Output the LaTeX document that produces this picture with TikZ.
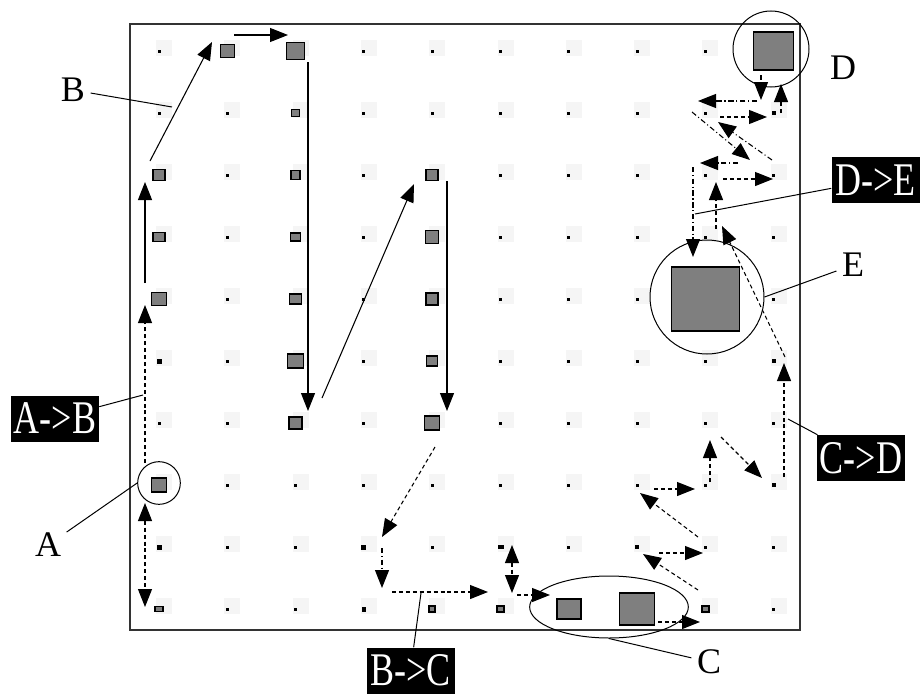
\documentclass[tikz,border=0pt]{standalone}
\usepackage{fontspec}
\setmainfont{Liberation Serif}
\usetikzlibrary{arrows.meta,shapes.geometric}
\definecolor{sqgray}{HTML}{7F7F7F}
\tikzset{
  sarr/.style={line width=0.8pt,-{Triangle[length=13.5pt,width=10.5pt]}},
  darr/.style={line width=0.8pt,dash pattern=on 3pt off 2.2pt,-{Triangle[length=13.5pt,width=10.5pt]}},
  ddarr/.style={line width=0.8pt,dash pattern=on 3pt off 2.2pt,{Triangle[length=13.5pt,width=10.5pt]}-{Triangle[length=13.5pt,width=10.5pt]}},
  dotarr/.style={line width=0.8pt,dash pattern=on 4pt off 2pt on 0.8pt off 2pt,-{Triangle[length=13.5pt,width=10.5pt]}},
  gsq/.style={fill=sqgray,draw=black,line width=1.1pt},
  lbl/.style={font=\fontsize{27}{27}\selectfont,inner sep=4pt},
  blk/.style={fill=black,text=white,minimum width=66pt,minimum height=34.5pt,inner sep=0pt,font=\fontsize{27}{27}\selectfont},
  conn/.style={line width=0.75pt},
  ring/.style={draw=black,line width=0.75pt,circle,inner sep=0pt},
  frame/.style={draw=black!80,line width=1pt}
}
\newcommand\cx[1]{159+68.3*#1}
\newcommand\cy[1]{51+62*#1}
\newcommand\gsquare[4]{\draw[gsq] ({\cx{#1}-#3/2},{\cy{#2}-#4/2}) rectangle ++(#3,#4);}
\newcommand\bdot[4]{\fill[black] ({\cx{#1}-#3/2},{\cy{#2}-#4/2}) rectangle ++(#3,#4);}
\newcommand\stretched[1]{\scalebox{1}[1.3]{#1}}
\begin{document}
\begin{tikzpicture}[x=0.75pt,y=-0.75pt]
\useasboundingbox (0,0) rectangle (921,696);
\fill[white] (0,0) rectangle (921,696);
% grid background speckles and dots
\foreach \i in {0,...,9}{\foreach \j in {0,...,9}{
  \fill[black!4] ({\cx{\i}-3},{\cy{\j}-11}) rectangle ++(16,16);
  \fill[black] ({\cx{\i}-1.5},{\cy{\j}-1.5}) rectangle ++(3,3);
}}
\draw[frame] (130,24) rectangle (800,630);
% larger dots
\bdot{0}{5}{5}{5}
\bdot{0}{8}{5}{5}
\bdot{3}{8}{5}{5}
\bdot{5}{8}{6}{4}
\bdot{7}{8}{4}{4}
\bdot{9}{1}{4}{4}
\bdot{9}{5}{4}{4}
\bdot{9}{7}{4}{4}
\bdot{3}{9}{4}{5}
% gray squares
\gsquare{1}{0}{14}{13}
\gsquare{2}{0}{18}{17}
\gsquare{9}{0}{40}{38}
\gsquare{2}{1}{8}{7}
\gsquare{0}{2}{12}{11}
\gsquare{2}{2}{9}{9}
\gsquare{4}{2}{12}{11}
\gsquare{0}{3}{12}{9}
\gsquare{2}{3}{10}{8}
\gsquare{4}{3}{13}{13}
\gsquare{0}{4}{15}{13}
\gsquare{2}{4}{12}{10}
\gsquare{4}{4}{12}{12}
\gsquare{8}{4}{68}{64}
\gsquare{2}{5}{16}{14}
\gsquare{4}{5}{11}{10}
\gsquare{2}{6}{13}{12}
\gsquare{4}{6}{15}{14}
\gsquare{0}{7}{15}{14}
\gsquare{0}{9}{8}{5}
\gsquare{4}{9}{6}{6}
\gsquare{5}{9}{7}{6}
\gsquare{6}{9}{24}{20}
\gsquare{7}{9}{35}{32}
\gsquare{8}{9}{7}{6}
% rings
\node[ring,minimum size=32pt] (cA) at (159,483) {};
\node[ring,minimum size=57pt] (cD) at (771,49) {};
\node[ring,minimum size=85.5pt] (cE) at (707,297) {};
\node[draw=black,line width=0.75pt,ellipse,minimum width=119pt,minimum height=46.5pt,inner sep=0pt] (cC) at (609,607) {};
% path B (solid)
\draw[sarr] (145,283) -- (145,182);
\draw[sarr] (150,161) -- (212,42);
\draw[sarr] (234,35) -- (288,35);
\draw[sarr] (308,62) -- (308,411);
\draw[sarr] (322,398) -- (414,184);
\draw[sarr] (447,181) -- (447,411);
% A -> B
\draw[darr] (145,463) -- (145,305);
\draw[ddarr] (145,503) -- (145,607);
% B -> C
\draw[darr] (435,447) -- (382,537);
\draw[dotarr] (382,548) -- (382,588);
\draw[darr] (392,592) -- (488,592);
\draw[ddarr] (512,545) -- (512,593);
\draw[darr] (517,595) -- (550,595);
% C -> D
\draw[darr] (658,622) -- (700,622);
\draw[darr] (698,590) -- (643,554);
\draw[darr] (659,553) -- (703,553);
\draw[darr] (698,537) -- (640,493);
\draw[darr] (654,489) -- (695,489);
\draw[darr] (710,482) -- (710,440);
\draw[darr] (721,437) -- (762,478);
\draw[darr] (784,477) -- (784,363);
\draw[darr] (785,357) -- (722,226);
\draw[darr] (716,229) -- (716,182);
\draw[darr] (723,179) -- (773,179);
\draw[dotarr] (772,160) -- (718,122);
\draw[darr] (720,117) -- (767,117);
\draw[darr] (781,113) -- (781,84);
% D -> E
\draw[dotarr] (761,75) -- (761,100);
\draw[dotarr] (757,101) -- (698,101);
\draw[dotarr] (692,112) -- (750,160);
\draw[dotarr] (738,163) -- (700,163);
\draw[dotarr] (693,167) -- (693,257);
% labels
\coordinate (pB) at (172,107);
\coordinate (pAB) at (143,395);
\coordinate (pBC) at (421,593);
\coordinate (pCD) at (788,419);
\coordinate (pDE) at (695,214);
\node[lbl] (labB) at (73,90) {B};
\node[lbl] (labA) at (48,545) {A};
\node[lbl] (labC) at (709,662) {C};
\node[lbl] (labD) at (843,68) {D};
\node[lbl] (labE) at (853,265) {E};
\node[blk] (bAB) at (55,418.5) {\stretched{A->B}};
\node[blk] (bBC) at (410.5,670.5) {\stretched{B->C}};
\node[blk] (bCD) at (861,458) {\stretched{C->D}};
\node[blk] (bDE) at (875.5,180) {\stretched{D->E}};
\draw[conn] (labB) -- (pB);
\draw[conn] (labA) -- (cA.west);
\draw[conn] (labC) -- (cC.south);
\draw[conn] (labE) -- (cE.east);
\draw[conn] (bAB) -- (pAB);
\draw[conn] (bBC) -- (pBC);
\draw[conn] (bCD) -- (pCD);
\draw[conn] (bDE) -- (pDE);
\end{tikzpicture}
\end{document}
